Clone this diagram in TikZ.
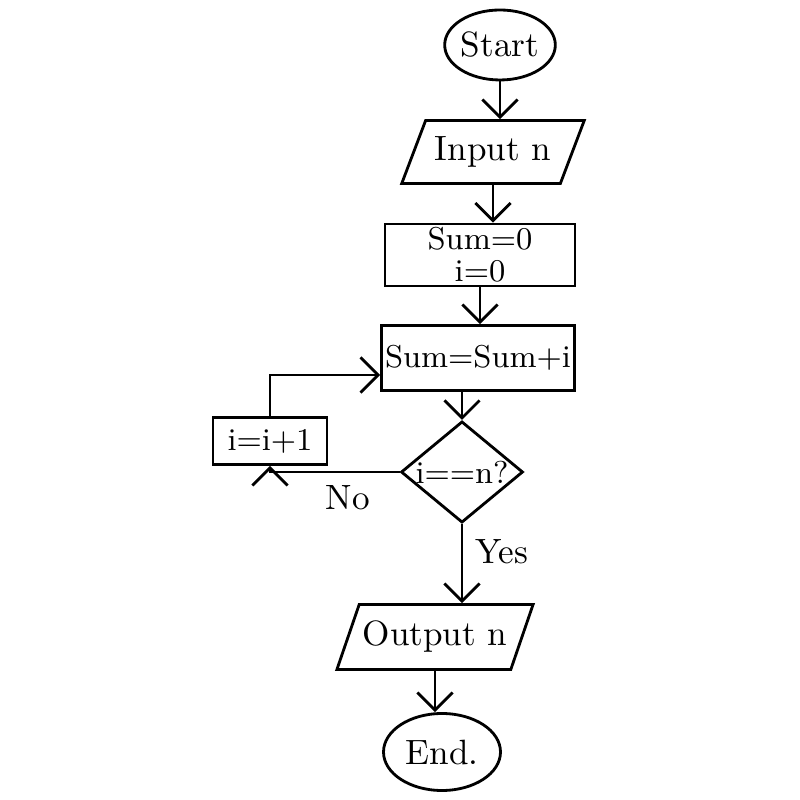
\documentclass[tikz,border=0pt]{standalone}
\usepackage{tikz}
\usetikzlibrary{arrows.meta,positioning,shapes.geometric,calc}
\tikzset{
  flow/.style={-{Straight Barb[length=5pt,width=10pt]}, thick},
  term/.style={ellipse, draw, thick, inner sep=0pt},
  io/.style={trapezium, trapezium left angle=60, trapezium right angle=120, trapezium stretches=true, draw, thick, inner sep=1pt},
  proc/.style={rectangle, draw, thick, inner sep=1pt, font=\small},
  cond/.style={diamond, draw, thick, inner sep=-1pt, font=\small},
  lbl/.style={font=\normalsize},
}

\begin{document}
\begin{tikzpicture}
\useasboundingbox (0,0) rectangle (8,8);
\node[term, minimum width=0.8cm, minimum height=0.7cm] (start) at (5.00,7.55) {Start};
\node[io, minimum width=1.83cm, minimum height=0.63cm] (input) at (4.93,6.48) {Input n};
\node[proc, minimum width=1.9cm, minimum height=0.62cm, align=center] (init) at (4.80,5.45) {Sum=0\\[-2pt]i=0};
\node[proc, minimum width=1.87cm, minimum height=0.65cm] (update) at (4.78,4.42) {Sum=Sum+i};
\node[cond, minimum width=1.22cm, minimum height=0.95cm] (check) at (4.62,3.28) {i==n?};
\node[proc, minimum width=1.14cm, minimum height=0.47cm] (incr) at (2.70,3.59) {i=i+1};
\node[io, minimum width=1.80cm, minimum height=0.65cm] (output) at (4.35,1.63) {Output n};
\node[term, minimum width=1.17cm, minimum height=0.77cm] (stop) at (4.42,0.48) {End.};
\coordinate (back) at ($(update.west)+(0,-0.17)$);
\draw[flow] (start.south) -- (start.south |- input.north);
\draw[flow] (input.south) -- (input.south |- init.north);
\draw[flow] (init.south) -- (init.south |- update.north);
\draw[flow] (update.south -| check.north) -- (check.north);
\draw[flow] (check.west) -| node[lbl, below, pos=0.2] {No} (incr.south);
\draw[flow] (incr.north) |- (back);
\draw[flow] (check.south) -- node[lbl, right, pos=0.35] {Yes} (check.south |- output.north);
\draw[flow] (output.south) -- (output.south |- stop.north);
\end{tikzpicture}
\end{document}
